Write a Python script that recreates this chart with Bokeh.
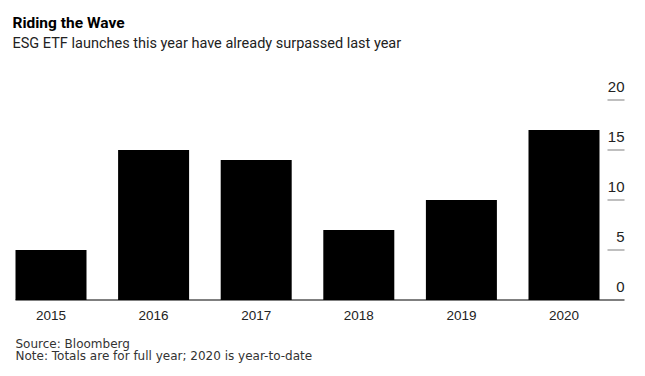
from bokeh.plotting import figure
from bokeh.models import ColumnDataSource, Range1d, Label
from bokeh.core.properties import value
from bokeh.embed import file_html
from bokeh.resources import INLINE

years = ["2015", "2016", "2017", "2018", "2019", "2020"]
launches = [5, 15, 14, 7, 10, 17]
y_ticks = [0, 5, 10, 15, 20]
y_tick_labels = ["0", "5", "10", "15", "20"]

title_text = "Riding the Wave"
subtitle_text = "ESG ETF launches this year have already surpassed last year"
source_text = "Source: Bloomberg"
note_text = "Note: Totals are for full year; 2020 is year-to-date"

FONT = "Liberation Sans"
HEAD = "Roboto"
FOOT = "DejaVu Sans"
W, H = 645, 376
# pixel geometry of the plotting area
px_step = 102.6      # px between bar centres
px_first = 50.5      # px x of first bar centre
px_zero = 299.5      # px y of value 0
px_unit = 10.0       # px per unit value
plot_left_px, plot_right_px, tick_start_px = 15, 624, 607

x_start = -px_first / px_step
x_end = (W - px_first) / px_step
y_start = -(H - px_zero) / px_unit
y_end = px_zero / px_unit

def xd(px):
    return (px - px_first) / px_step

p = figure(width=W, height=H, output_backend="svg", toolbar_location=None,
           x_range=Range1d(x_start, x_end), y_range=Range1d(y_start, y_end),
           x_axis_location=None, y_axis_location=None,
           min_border=0, min_border_left=0, min_border_right=0,
           min_border_top=0, min_border_bottom=0)
p.outline_line_color = None
p.grid.visible = False
p.background_fill_color = "white"
p.border_fill_color = "white"

idx = list(range(len(years)))
src = ColumnDataSource(dict(x=idx, top=launches, year=years))
p.vbar(x="x", top="top", bottom=0, width=71 / px_step, source=src,
       fill_color="black", line_color=None)

# baseline
p.segment(x0=[xd(plot_left_px)], x1=[xd(plot_right_px)], y0=[0], y1=[0],
          line_color="black", line_width=1)

# right-side tick marks (gray) and labels above them
tick_vals = [t for t in y_ticks if t != 0]
tsrc = ColumnDataSource(dict(x0=[xd(tick_start_px)] * len(tick_vals),
                             x1=[xd(plot_right_px)] * len(tick_vals), y=tick_vals))
p.segment(x0="x0", x1="x1", y0="y", y1="y", source=tsrc,
          line_color="#808080", line_width=1.2)
lsrc = ColumnDataSource(dict(x=[xd(plot_right_px)] * len(y_ticks), y=y_ticks,
                             t=y_tick_labels))
p.text(x="x", y="y", text="t", source=lsrc, text_align="right",
       text_baseline="middle", y_offset=-13, text_font=value(FONT),
       text_font_size="15px", text_color="#222222")

# year labels under the bars
p.text(x="x", y=0, text="year", source=src, text_align="center",
       text_baseline="middle", y_offset=15.5, text_font=value(FONT),
       text_font_size="13.5px", text_color="#222222")

def add_label(text, cx, cy, size, font, bold=False, color="#222222"):
    # cy: vertical centre of the text line, in canvas pixels from the top
    p.add_layout(Label(x=cx, y=H - cy, x_units="screen", y_units="screen",
                       text=text, text_font=font, text_font_size=size,
                       text_font_style="bold" if bold else "normal",
                       text_color=color, text_baseline="middle",
                       text_align="left"))

add_label(title_text, 12, 22.5, "15.5px", HEAD, bold=True, color="#000000")
add_label(subtitle_text, 12, 42.5, "14.5px", HEAD)
add_label(source_text, 15, 343.5, "12px", FOOT, color="#333333")
add_label(note_text, 15, 355.5, "12px", FOOT, color="#333333")

open("out.html", "w").write(file_html(p, INLINE))
